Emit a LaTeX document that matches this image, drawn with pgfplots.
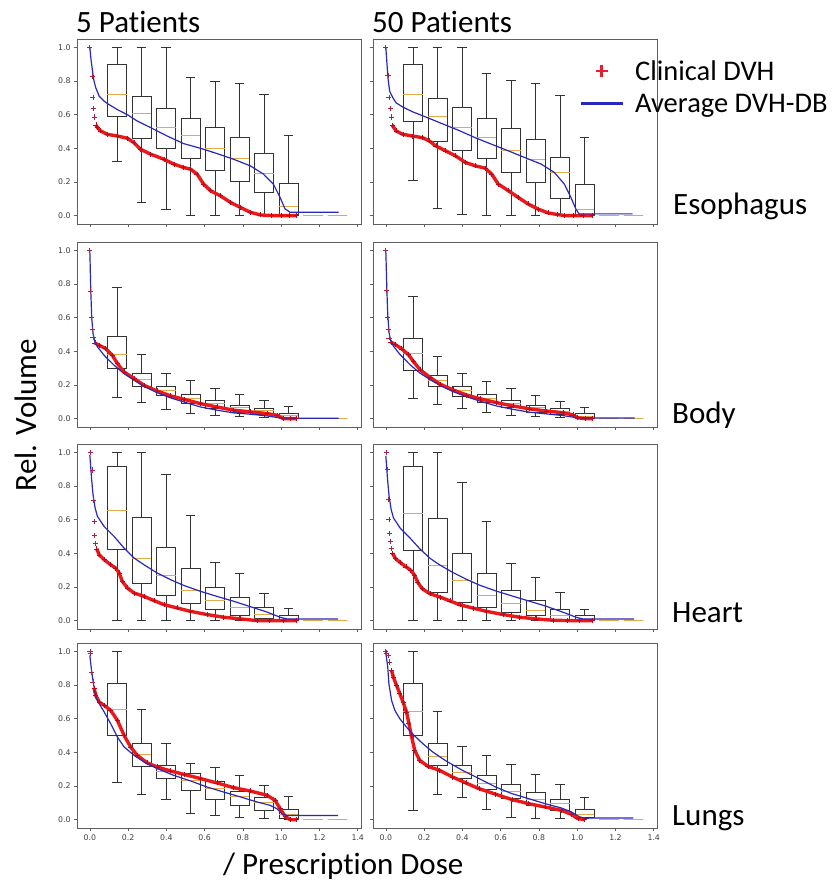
\documentclass[border=0pt]{standalone}
\usepackage{fontspec}
\setmainfont{Carlito}[Ligatures={NoCommon}]
\newfontfamily\dejavu{DejaVu Sans}
\usepackage{pgfplots}
\pgfplotsset{compat=1.18}
\usepgfplotslibrary{statistics}

\definecolor{dvhRed}{RGB}{235,25,25}
\definecolor{dvhMark}{RGB}{185,10,30}
\definecolor{dvhHead}{RGB}{165,35,70}
\definecolor{legRed}{RGB}{230,30,50}
\definecolor{dbBlue}{RGB}{40,40,190}
\definecolor{medGold}{RGB}{225,170,75}
\definecolor{frameGray}{RGB}{95,95,95}

\newcommand\bigtxt{\fontsize{31}{37}\selectfont}
\newcommand\legtxt{\fontsize{28.5}{34}\selectfont}

% one box: position, lower whisker, Q1, median, Q3, upper whisker
\newcommand\bx[6]{\addplot[black!80,line width=0.6pt,boxplot prepared={draw direction=y,
  box extend=0.1,whisker extend=0.05,draw position=#1,
  lower whisker=#2,lower quartile=#3,median=#4,upper quartile=#5,upper whisker=#6}] coordinates {};}

\pgfplotsset{
  panel/.style={scale only axis,width=284pt,height=185pt,
    xmin=-0.067,xmax=1.417,ymin=-0.05,ymax=1.05,
    xtick={0,0.2,0.4,0.6,0.8,1.0,1.2,1.4},ytick={0,0.2,0.4,0.6,0.8,1.0},
    tick align=outside,tick pos=left,major tick length=3pt,
    axis line style={frameGray,line width=0.8pt},
    every tick/.style={frameGray,line width=0.6pt},
    ticklabel style={font=\dejavu\fontsize{7.8}{9}\selectfont,text=black!75},
    /pgf/number format/fixed,/pgf/number format/fixed zerofill,
    /pgf/number format/precision=1,/pgf/number format/assume math mode=true,
    boxplot/every median/.style={draw=medGold,line width=0.7pt},
    anchor=north west},
  nox/.style={xticklabels={}},
  noy/.style={yticklabels={}},
  head/.style={only marks,mark=+,mark size=2.6pt,dvhHead,mark options={line width=0.7pt}},
  band/.style={dvhRed,line width=3.4pt,line join=round,mark=+,mark size=2.5pt,
    mark options={dvhMark,line width=0.5pt}},
  avg/.style={dbBlue,line width=1.2pt,no marks},
  legplus/.style={legend image code/.code={%
    \draw[legRed,line width=2.4pt] (15pt,0pt)--(27pt,0pt) (21pt,-6pt)--(21pt,6pt);}},
  legline/.style={legend image code/.code={%
    \draw[dbBlue,line width=3pt] (0pt,0pt)--(42pt,0pt);}},
}

\begin{document}
\begin{tikzpicture}
\useasboundingbox (0,0) rectangle (837pt,885pt);

% ---------- Esophagus, 5 patients
\begin{axis}[panel,nox,at={(77pt,846pt)}]
\bx{0.142}{0.32}{0.59}{0.72}{0.90}{1.0}
\bx{0.270}{0.08}{0.46}{0.605}{0.712}{1.0}
\bx{0.398}{0.04}{0.40}{0.525}{0.64}{1.0}
\bx{0.526}{0}{0.34}{0.477}{0.578}{0.82}
\bx{0.654}{0}{0.268}{0.40}{0.523}{0.80}
\bx{0.782}{0}{0.205}{0.343}{0.467}{0.785}
\bx{0.910}{0}{0.14}{0.252}{0.37}{0.724}
\bx{1.038}{0}{0.01}{0.053}{0.19}{0.48}
\bx{1.166}{0}{0}{0}{0}{0}
\bx{1.294}{0}{0}{0}{0}{0}
\addplot[head] coordinates {(0,1.0)(0.012,0.83)(0.016,0.70)(0.019,0.637)(0.023,0.586)};
\addplot[band] coordinates {(0.031,0.54)(0.04,0.523)(0.057,0.503)(0.092,0.483)(0.144,0.473)(0.196,0.46)(0.23,0.434)(0.265,0.394)(0.318,0.365)(0.387,0.335)(0.439,0.306)(0.49,0.286)(0.526,0.276)(0.56,0.247)(0.595,0.187)(0.63,0.148)(0.682,0.118)(0.734,0.079)(0.786,0.049)(0.838,0.02)(0.89,0.004)(0.95,0)(1.0,0)(1.04,0)(1.08,0)};
\addplot[avg] coordinates {(0,1.0)(0.006,0.93)(0.014,0.86)(0.022,0.80)(0.031,0.76)(0.049,0.71)(0.075,0.68)(0.10,0.66)(0.144,0.63)(0.196,0.60)(0.248,0.562)(0.318,0.523)(0.404,0.473)(0.49,0.428)(0.578,0.40)(0.664,0.369)(0.751,0.335)(0.838,0.296)(0.907,0.247)(0.959,0.187)(0.994,0.108)(1.02,0.04)(1.046,0.02)(1.30,0.02)};
\end{axis}

% ---------- Esophagus, 50 patients
\begin{axis}[panel,nox,noy,at={(373pt,846pt)},
  legend cell align=left,
  legend style={at={(axis description cs:0.725,0.895)},anchor=north west,draw=none,fill=none,
    font=\legtxt,inner sep=0pt,row sep=8pt,
    /tikz/every odd column/.append style={column sep=9pt}}]
\addlegendimage{legplus}
\addlegendentry{Clinical DVH}
\addlegendimage{legline}
\addlegendentry{Average DVH-DB}
\bx{0.142}{0.211}{0.562}{0.72}{0.897}{1.0}
\bx{0.270}{0.045}{0.44}{0.592}{0.70}{1.0}
\bx{0.398}{0.01}{0.39}{0.523}{0.645}{1.0}
\bx{0.526}{0}{0.34}{0.463}{0.576}{0.844}
\bx{0.654}{0}{0.256}{0.39}{0.519}{0.803}
\bx{0.782}{0}{0.20}{0.333}{0.454}{0.785}
\bx{0.910}{0}{0.105}{0.258}{0.347}{0.714}
\bx{1.038}{0}{0.01}{0.04}{0.187}{0.463}
\bx{1.166}{0}{0}{0}{0}{0}
\bx{1.294}{0}{0}{0}{0}{0}
\addplot[head] coordinates {(0,1.0)(0.011,0.832)(0.016,0.70)(0.023,0.635)(0.028,0.586)};
\addplot[band] coordinates {(0.033,0.538)(0.054,0.503)(0.089,0.483)(0.14,0.473)(0.192,0.463)(0.227,0.444)(0.261,0.414)(0.313,0.385)(0.364,0.355)(0.416,0.316)(0.467,0.296)(0.519,0.282)(0.553,0.247)(0.588,0.187)(0.64,0.148)(0.692,0.108)(0.743,0.069)(0.795,0.039)(0.847,0.016)(0.898,0.006)(0.933,0)(0.98,0)(1.03,0)(1.08,0)};
\addplot[avg] coordinates {(0,1.0)(0.011,0.82)(0.02,0.74)(0.037,0.70)(0.054,0.67)(0.089,0.645)(0.14,0.617)(0.209,0.586)(0.295,0.546)(0.38,0.507)(0.467,0.463)(0.553,0.424)(0.64,0.385)(0.726,0.345)(0.812,0.306)(0.881,0.256)(0.933,0.187)(0.967,0.108)(0.993,0.039)(1.01,0.01)(1.29,0.01)};
\end{axis}

% ---------- Body, 5 patients
\begin{axis}[panel,nox,at={(77pt,643pt)}]
\bx{0.142}{0.125}{0.297}{0.38}{0.489}{0.778}
\bx{0.270}{0.095}{0.192}{0.234}{0.267}{0.382}
\bx{0.398}{0.055}{0.137}{0.168}{0.192}{0.271}
\bx{0.526}{0.032}{0.091}{0.119}{0.145}{0.228}
\bx{0.654}{0.02}{0.059}{0.093}{0.109}{0.182}
\bx{0.782}{0.014}{0.04}{0.069}{0.079}{0.145}
\bx{0.910}{0.01}{0.028}{0.05}{0.059}{0.107}
\bx{1.038}{0}{0}{0.018}{0.034}{0.075}
\bx{1.166}{0}{0}{0}{0}{0}
\bx{1.294}{0}{0}{0}{0}{0}
\addplot[head] coordinates {(0,1.0)(0.003,0.758)(0.007,0.60)(0.012,0.529)(0.017,0.481)};
\addplot[band] coordinates {(0.026,0.45)(0.049,0.436)(0.083,0.416)(0.118,0.376)(0.144,0.327)(0.179,0.277)(0.231,0.238)(0.283,0.198)(0.352,0.164)(0.422,0.135)(0.491,0.115)(0.578,0.089)(0.664,0.069)(0.751,0.05)(0.838,0.04)(0.925,0.03)(0.977,0.02)(1.01,0)(1.045,0)(1.08,0)};
\addplot[avg] coordinates {(0,1.0)(0.005,0.76)(0.01,0.60)(0.017,0.505)(0.026,0.455)(0.04,0.426)(0.075,0.376)(0.127,0.317)(0.179,0.267)(0.231,0.228)(0.283,0.192)(0.352,0.154)(0.422,0.123)(0.491,0.099)(0.578,0.069)(0.664,0.05)(0.751,0.034)(0.838,0.026)(0.925,0.016)(0.994,0.004)(1.01,0.002)(1.30,0.002)};
\end{axis}

% ---------- Body, 50 patients
\begin{axis}[panel,nox,noy,at={(373pt,643pt)}]
\bx{0.142}{0.12}{0.29}{0.39}{0.48}{0.73}
\bx{0.270}{0.085}{0.19}{0.225}{0.26}{0.37}
\bx{0.398}{0.06}{0.135}{0.165}{0.19}{0.27}
\bx{0.526}{0.035}{0.095}{0.12}{0.145}{0.22}
\bx{0.654}{0.02}{0.065}{0.09}{0.11}{0.18}
\bx{0.782}{0.012}{0.04}{0.065}{0.08}{0.14}
\bx{0.910}{0.008}{0.025}{0.045}{0.06}{0.10}
\bx{1.038}{0}{0.002}{0.015}{0.03}{0.07}
\bx{1.166}{0}{0}{0}{0}{0}
\bx{1.294}{0}{0}{0}{0}{0}
\addplot[head] coordinates {(0,1.0)(0.003,0.76)(0.007,0.60)(0.012,0.53)(0.017,0.48)};
\addplot[band] coordinates {(0.026,0.455)(0.049,0.44)(0.083,0.415)(0.118,0.38)(0.144,0.34)(0.179,0.29)(0.231,0.245)(0.283,0.205)(0.352,0.17)(0.422,0.14)(0.491,0.118)(0.578,0.095)(0.664,0.075)(0.751,0.058)(0.838,0.045)(0.925,0.035)(0.977,0.022)(1.0,0.005)(1.04,0)(1.08,0)};
\addplot[avg] coordinates {(0,1.0)(0.005,0.78)(0.01,0.62)(0.017,0.51)(0.026,0.46)(0.04,0.43)(0.075,0.38)(0.127,0.32)(0.179,0.27)(0.231,0.232)(0.283,0.197)(0.352,0.16)(0.422,0.13)(0.491,0.104)(0.578,0.075)(0.664,0.055)(0.751,0.038)(0.838,0.028)(0.925,0.018)(0.994,0.006)(1.02,0.004)(1.30,0.004)};
\end{axis}

% ---------- Heart, 5 patients
\begin{axis}[panel,nox,at={(77pt,441pt)}]
\bx{0.142}{0}{0.421}{0.654}{0.919}{1.0}
\bx{0.270}{0}{0.221}{0.372}{0.615}{1.0}
\bx{0.398}{0}{0.148}{0.267}{0.433}{0.87}
\bx{0.526}{0}{0.10}{0.178}{0.312}{0.628}
\bx{0.654}{0}{0.067}{0.122}{0.20}{0.348}
\bx{0.782}{0}{0.032}{0.079}{0.136}{0.283}
\bx{0.910}{0}{0.016}{0.04}{0.081}{0.164}
\bx{1.038}{0}{0}{0.01}{0.03}{0.075}
\bx{1.166}{0}{0}{0}{0}{0}
\bx{1.294}{0}{0}{0}{0}{0}
\addplot[head] coordinates {(0.005,1.0)(0.012,0.895)(0.019,0.717)(0.023,0.589)(0.026,0.504)(0.03,0.46)};
\addplot[band] coordinates {(0.036,0.427)(0.049,0.391)(0.075,0.362)(0.109,0.332)(0.135,0.312)(0.153,0.283)(0.17,0.233)(0.196,0.194)(0.231,0.164)(0.283,0.144)(0.335,0.119)(0.387,0.095)(0.456,0.075)(0.526,0.055)(0.612,0.036)(0.699,0.02)(0.786,0.01)(0.873,0)(0.94,0)(1.01,0)(1.08,0)};
\addplot[avg] coordinates {(0,0.985)(0.009,0.846)(0.017,0.747)(0.028,0.668)(0.04,0.619)(0.075,0.559)(0.127,0.50)(0.179,0.431)(0.231,0.372)(0.283,0.332)(0.352,0.283)(0.422,0.243)(0.491,0.209)(0.578,0.174)(0.664,0.144)(0.751,0.115)(0.838,0.083)(0.925,0.051)(0.994,0.02)(1.029,0.01)(1.298,0.01)};
\end{axis}

% ---------- Heart, 50 patients
\begin{axis}[panel,nox,noy,at={(373pt,441pt)}]
\bx{0.142}{0}{0.42}{0.64}{0.92}{1.0}
\bx{0.270}{0}{0.17}{0.33}{0.61}{1.0}
\bx{0.398}{0}{0.11}{0.24}{0.40}{0.82}
\bx{0.526}{0}{0.08}{0.15}{0.28}{0.59}
\bx{0.654}{0}{0.05}{0.10}{0.18}{0.34}
\bx{0.782}{0}{0.03}{0.06}{0.12}{0.26}
\bx{0.910}{0}{0.01}{0.03}{0.07}{0.17}
\bx{1.038}{0}{0}{0.01}{0.03}{0.07}
\bx{1.166}{0}{0}{0}{0}{0}
\bx{1.294}{0}{0}{0}{0}{0}
\addplot[head] coordinates {(0.003,1.0)(0.008,0.90)(0.012,0.72)(0.016,0.60)(0.02,0.52)(0.024,0.47)(0.028,0.43)};
\addplot[band] coordinates {(0.035,0.40)(0.05,0.37)(0.075,0.345)(0.105,0.32)(0.13,0.30)(0.15,0.27)(0.168,0.225)(0.19,0.19)(0.23,0.16)(0.283,0.14)(0.335,0.117)(0.387,0.094)(0.456,0.074)(0.526,0.055)(0.612,0.036)(0.699,0.02)(0.786,0.01)(0.873,0.002)(0.95,0)(1.01,0)(1.08,0)};
\addplot[avg] coordinates {(0,0.98)(0.009,0.84)(0.017,0.74)(0.028,0.66)(0.04,0.61)(0.075,0.55)(0.127,0.49)(0.179,0.425)(0.231,0.37)(0.283,0.33)(0.352,0.285)(0.422,0.245)(0.491,0.21)(0.578,0.175)(0.664,0.145)(0.751,0.115)(0.838,0.085)(0.925,0.05)(0.994,0.02)(1.029,0.01)(1.298,0.01)};
\end{axis}

% ---------- Lungs, 5 patients
\begin{axis}[panel,at={(77pt,242pt)}]
\bx{0.142}{0.22}{0.503}{0.655}{0.812}{1.0}
\bx{0.270}{0.15}{0.317}{0.386}{0.455}{0.655}
\bx{0.398}{0.121}{0.244}{0.287}{0.325}{0.453}
\bx{0.526}{0.04}{0.174}{0.234}{0.277}{0.337}
\bx{0.654}{0.028}{0.121}{0.184}{0.228}{0.313}
\bx{0.782}{0.016}{0.085}{0.141}{0.17}{0.263}
\bx{0.910}{0.01}{0.055}{0.105}{0.131}{0.206}
\bx{1.038}{0}{0.01}{0.03}{0.059}{0.137}
\bx{1.166}{0}{0}{0}{0}{0}
\bx{1.294}{0}{0}{0}{0}{0}
\addplot[head] coordinates {(0.001,1.0)(0.005,0.986)(0.01,0.877)(0.016,0.818)};
\addplot[band] coordinates {(0.023,0.778)(0.031,0.739)(0.049,0.699)(0.075,0.679)(0.109,0.65)(0.144,0.59)(0.179,0.501)(0.213,0.432)(0.248,0.382)(0.30,0.337)(0.352,0.313)(0.422,0.289)(0.491,0.269)(0.578,0.244)(0.664,0.218)(0.751,0.19)(0.838,0.17)(0.925,0.145)(0.968,0.115)(0.994,0.065)(1.02,0.02)(1.046,0)(1.08,0)};
\addplot[avg] coordinates {(0,0.976)(0.009,0.887)(0.019,0.808)(0.031,0.729)(0.049,0.689)(0.075,0.64)(0.109,0.57)(0.144,0.491)(0.179,0.432)(0.231,0.382)(0.283,0.343)(0.352,0.303)(0.439,0.263)(0.526,0.23)(0.612,0.194)(0.699,0.164)(0.786,0.135)(0.873,0.105)(0.942,0.085)(0.977,0.065)(1.003,0.036)(1.029,0.024)(1.298,0.024)};
\end{axis}

% ---------- Lungs, 50 patients
\begin{axis}[panel,noy,at={(373pt,242pt)}]
\bx{0.142}{0.055}{0.499}{0.644}{0.808}{1.0}
\bx{0.270}{0.15}{0.323}{0.378}{0.455}{0.646}
\bx{0.398}{0.131}{0.248}{0.283}{0.323}{0.438}
\bx{0.526}{0.059}{0.18}{0.218}{0.263}{0.382}
\bx{0.654}{0.016}{0.125}{0.17}{0.208}{0.327}
\bx{0.782}{0.01}{0.085}{0.119}{0.164}{0.267}
\bx{0.910}{0.006}{0.055}{0.095}{0.121}{0.212}
\bx{1.038}{0.006}{0.016}{0.032}{0.059}{0.133}
\bx{1.166}{0}{0}{0}{0}{0}
\bx{1.294}{0}{0}{0}{0}{0}
\addplot[head] coordinates {(0,1.0)(0.005,0.99)(0.013,0.976)(0.021,0.937)};
\addplot[band] coordinates {(0.03,0.887)(0.039,0.848)(0.056,0.798)(0.073,0.749)(0.09,0.699)(0.108,0.64)(0.121,0.57)(0.133,0.501)(0.151,0.412)(0.177,0.352)(0.22,0.317)(0.28,0.293)(0.349,0.253)(0.418,0.218)(0.487,0.184)(0.573,0.151)(0.659,0.119)(0.745,0.095)(0.831,0.075)(0.917,0.055)(0.969,0.032)(1.003,0.006)(1.038,0)};
\addplot[avg] coordinates {(0,0.99)(0.01,0.907)(0.016,0.808)(0.03,0.709)(0.047,0.65)(0.073,0.60)(0.108,0.55)(0.142,0.507)(0.194,0.451)(0.245,0.402)(0.314,0.349)(0.40,0.293)(0.487,0.244)(0.573,0.194)(0.659,0.154)(0.745,0.125)(0.831,0.095)(0.917,0.069)(0.969,0.046)(1.012,0.016)(1.038,0.01)(1.293,0.01)};
\end{axis}

% ---------- titles and labels
\node[anchor=base west,font=\bigtxt,inner sep=0pt] at (76pt,852pt) {5 Patients};
\node[anchor=base west,font=\bigtxt,inner sep=0pt] at (372pt,852pt) {50 Patients};
\node[anchor=base west,font=\bigtxt,inner sep=0pt] at (673pt,670pt) {Esophagus};
\node[anchor=base west,font=\bigtxt,inner sep=0pt] at (672pt,461pt) {Body};
\node[anchor=base west,font=\bigtxt,inner sep=0pt] at (672pt,262pt) {Heart};
\node[anchor=base west,font=\bigtxt,inner sep=0pt] at (672pt,59pt) {Lungs};
\node[anchor=base,rotate=90,font=\bigtxt,inner sep=0pt] at (36pt,470pt) {Rel. Volume};
\node[anchor=base west,font=\bigtxt,inner sep=0pt] at (223pt,10pt) {/ Prescription Dose};
\end{tikzpicture}
\end{document}
